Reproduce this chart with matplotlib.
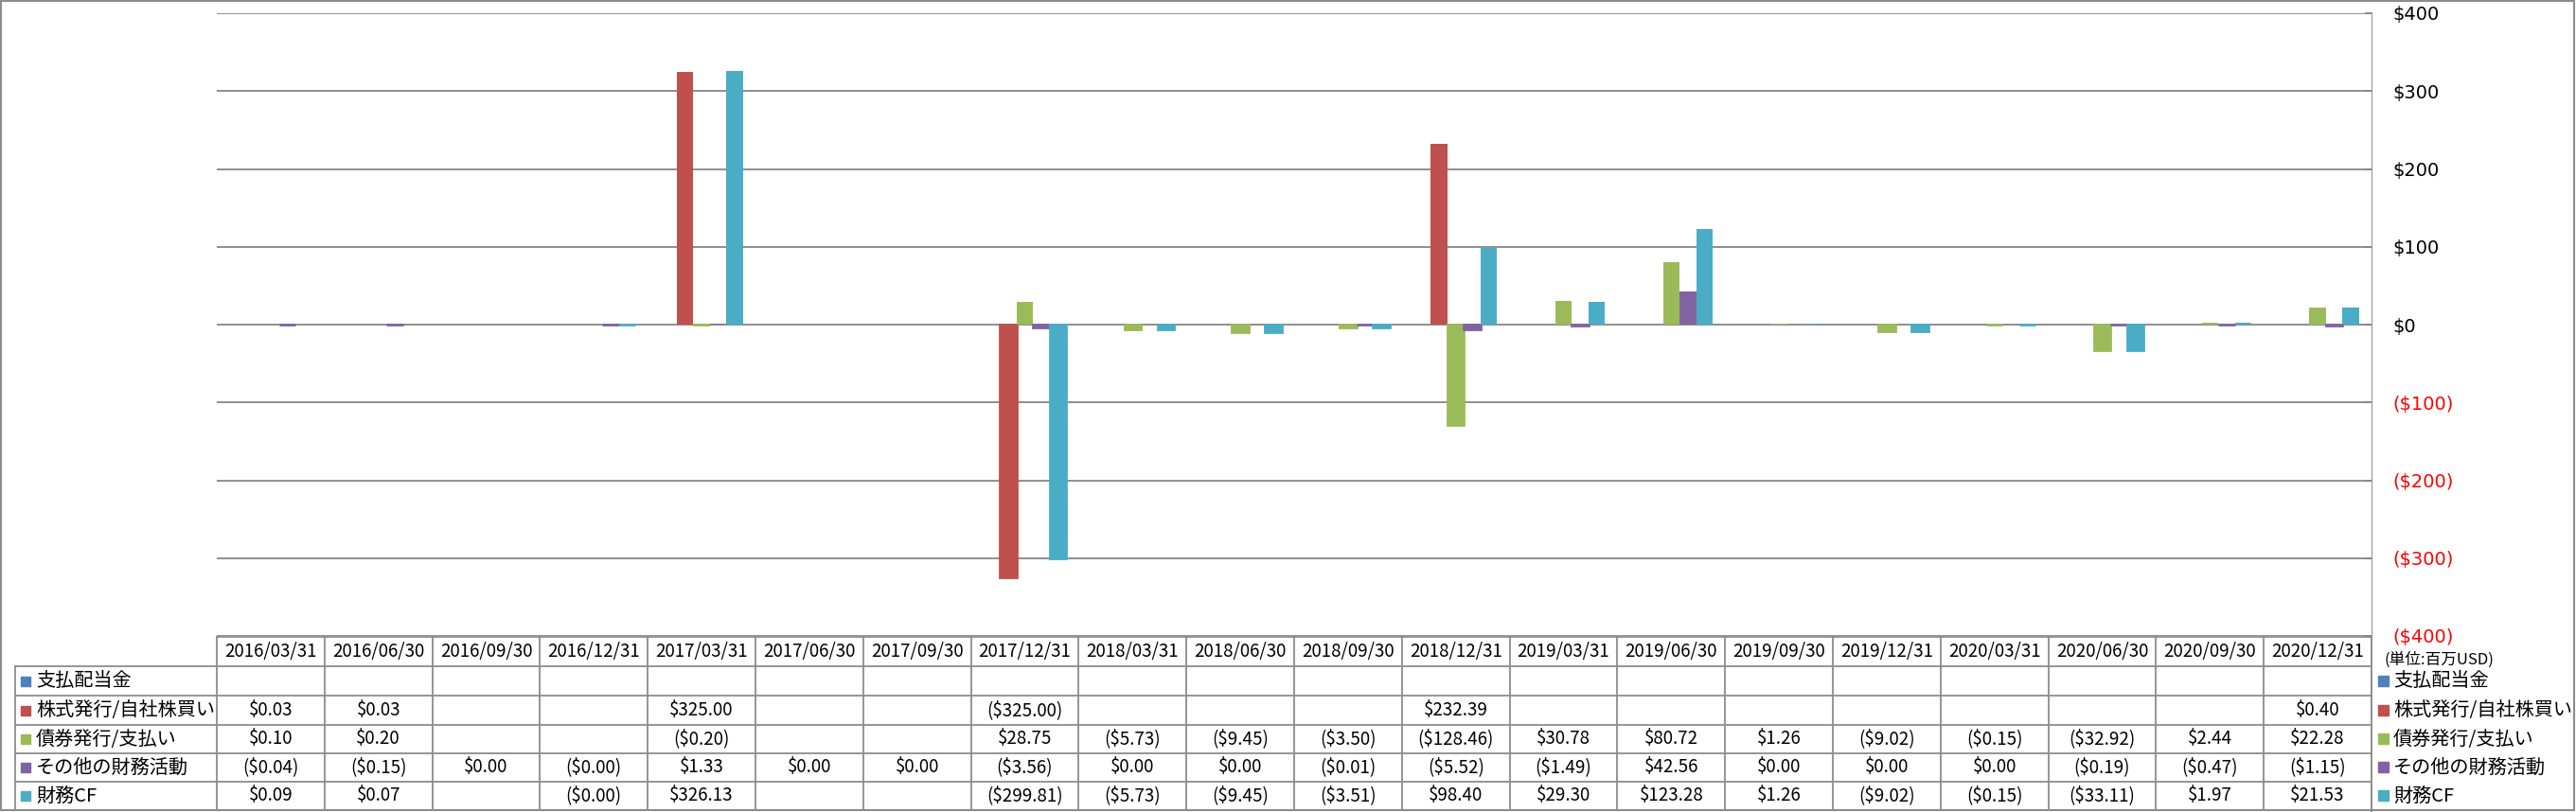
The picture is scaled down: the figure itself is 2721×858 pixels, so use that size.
import numpy as np
import matplotlib
matplotlib.use("Agg")
import matplotlib.pyplot as plt
from matplotlib.ticker import FuncFormatter, MultipleLocator

plt.rcParams['font.family'] = ['Noto Sans CJK JP', 'DejaVu Sans']

nan = np.nan
dates = ['2016/03/31', '2016/06/30', '2016/09/30', '2016/12/31', '2017/03/31',
         '2017/06/30', '2017/09/30', '2017/12/31', '2018/03/31', '2018/06/30',
         '2018/09/30', '2018/12/31', '2019/03/31', '2019/06/30', '2019/09/30',
         '2019/12/31', '2020/03/31', '2020/06/30', '2020/09/30', '2020/12/31']
names = ['支払配当金', '株式発行/自社株買い', '債券発行/支払い', 'その他の財務活動', '財務CF']
colors = ['#4F81BD', '#C0504D', '#9BBB59', '#8064A2', '#4BACC6']

dividends = [nan] * 20
stock = [0.03, 0.03, nan, nan, 325.00, nan, nan, -325.00, nan, nan,
         nan, 232.39, nan, nan, nan, nan, nan, nan, nan, 0.40]
debt = [0.10, 0.20, nan, nan, -0.20, nan, nan, 28.75, -5.73, -9.45,
        -3.50, -128.46, 30.78, 80.72, 1.26, -9.02, -0.15, -32.92, 2.44, 22.28]
other = [-0.04, -0.15, 0.00, -0.001, 1.33, 0.00, 0.00, -3.56, 0.00, 0.00,
         -0.01, -5.52, -1.49, 42.56, 0.00, 0.00, 0.00, -0.19, -0.47, -1.15]
cf = [0.09, 0.07, nan, -0.001, 326.13, nan, nan, -299.81, -5.73, -9.45,
      -3.51, 98.40, 29.30, 123.28, 1.26, -9.02, -0.15, -33.11, 1.97, 21.53]
series = [dividends, stock, debt, other, cf]

W, H = 2721, 858
fig = plt.figure(figsize=(W / 100, H / 100), dpi=100)

# pixel layout
PL, PR, PT, PB = 229, 2505, 14, 672
rows_y = [673, 704, 735, 766, 796, 826, 856]

ax = fig.add_axes([PL / W, 1 - PB / H, (PR - PL) / W, (PB - PT) / H])
n = len(dates)
cw = (PR - PL) / n
x = np.arange(n)
bw = 1 / 6.5
for i, (vals, c) in enumerate(zip(series, colors)):
    v = np.array(vals, dtype=float)
    h = np.nan_to_num(v)
    # tiny negative values still show as a thin line below zero
    lw = [2.0 if (not np.isnan(a) and a < 0) else 0 for a in v]
    ax.bar(x + (i - 2) * bw, h, bw, color=c, edgecolor=c, linewidth=lw, zorder=3)

ax.set_xlim(-0.5, n - 0.5)
ax.set_ylim(-400, 400)
ax.yaxis.set_major_locator(MultipleLocator(100))
ax.grid(axis='y', color='#868686', linewidth=1.3, zorder=0)
ax.set_xticks([])
for s in ['top', 'bottom', 'left', 'right']:
    ax.spines[s].set_visible(False)
ax.yaxis.tick_right()


def money(v, pos=None):
    if v < 0:
        return '(${:,.0f})'.format(-v)
    return '${:,.0f}'.format(v)


ax.yaxis.set_major_formatter(FuncFormatter(money))
ax.tick_params(axis='y', direction='in', length=5, color='#868686', width=1.3, pad=16)
for lab in ax.get_yticklabels():
    lab.set_family('DejaVu Sans')
    lab.set_fontsize(14)
    if lab.get_text().startswith('('):
        lab.set_color('red')

# table drawn on an overlay axes in pixel units
tab = fig.add_axes([0, 0, 1, 1], zorder=-1)
tab.set_xlim(0, W)
tab.set_ylim(H, 0)
tab.axis('off')

lc = '#8C8C8C'
tab.plot([PR, PR], [PT, H], color='#868686', lw=1.3)
tab.plot([PL, PR], [rows_y[0], rows_y[0]], color=lc, lw=1.3)
for y in rows_y[1:]:
    tab.plot([16, PR], [y, y], color=lc, lw=1.3)
for k in range(n):
    tab.plot([PL + k * cw] * 2, [rows_y[0], rows_y[-1]], color=lc, lw=1.3)
tab.plot([16, 16], [rows_y[1], rows_y[-1]], color=lc, lw=1.3)


def cell(v):
    if np.isnan(v):
        return ''
    if v < 0:
        return '(${:.2f})'.format(-v)
    return '${:.2f}'.format(v)


for k, d in enumerate(dates):
    tab.text(PL + (k + 0.5) * cw, (rows_y[0] + rows_y[1]) / 2, d,
             ha='center', va='center', fontsize=13.5)
for r, (name, vals, c) in enumerate(zip(names, series, colors)):
    yc = (rows_y[r + 1] + rows_y[r + 2]) / 2
    tab.add_patch(plt.Rectangle((22, yc - 5), 10, 10, color=c))
    tab.text(38, yc, name, ha='left', va='center', fontsize=14.5)
    for k, v in enumerate(vals):
        tab.text(PL + (k + 0.5) * cw, yc, cell(float(v)),
                 ha='center', va='center', fontsize=13.5)
    # right legend
    tab.add_patch(plt.Rectangle((2512, yc - 6), 11, 11, color=c))
    tab.text(2528, yc, name, ha='left', va='center', fontsize=14.5)

tab.text(2519, 697, '(単位:百万USD)', ha='left', va='center', fontsize=12)

# outer border
tab.add_patch(plt.Rectangle((1, 1), W - 3, H - 3, fill=False, edgecolor='#8C8C8C', lw=1.5))

fig.savefig('out.png', dpi=100)
